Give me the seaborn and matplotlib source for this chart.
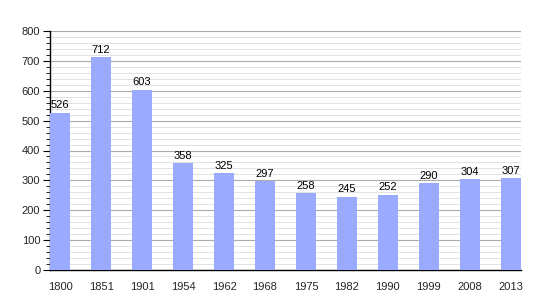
import matplotlib
matplotlib.use("Agg")
import matplotlib.pyplot as plt
import seaborn as sns
import pandas as pd
from matplotlib.ticker import MultipleLocator

years = ["1800", "1851", "1901", "1954", "1962", "1968", "1975", "1982", "1990", "1999", "2008", "2013"]
population = [526, 712, 603, 358, 325, 297, 258, 245, 252, 290, 304, 307]

df = pd.DataFrame({"year": years, "pop": population})

sns.set_theme(style="white")
plt.rcParams['font.family'] = ['Liberation Sans', 'DejaVu Sans']

fig = plt.figure(figsize=(5.5, 3), dpi=100)
ax = fig.add_axes([50/550, 30/300, 471/550, 239/300])

sns.barplot(data=df, x="year", y="pop", color="#99aaff", saturation=1, width=0.49,
            edgecolor="none", linewidth=0, ax=ax, zorder=3)

ax.set_xlim(-0.25, 11.25)
ax.set_ylim(0, 800)
ax.yaxis.set_major_locator(MultipleLocator(100))
ax.yaxis.set_minor_locator(MultipleLocator(20))
ax.grid(which="major", axis="y", color="#aaaaaa", linewidth=0.8, zorder=0)
ax.grid(which="minor", axis="y", color="#dddddd", linewidth=0.6, zorder=0)
ax.set_axisbelow(True)

for s in ["top", "right"]:
    ax.spines[s].set_visible(False)
ax.spines["left"].set_color("black")
ax.spines["bottom"].set_color("black")
ax.spines["left"].set_linewidth(1)
ax.spines["bottom"].set_linewidth(1)

ax.tick_params(axis="y", which="major", left=True, length=5, width=0.8, color="black", labelsize=8, pad=2)
ax.tick_params(axis="y", which="minor", left=True, length=3, width=0.6, color="black")
ax.tick_params(axis="x", bottom=False, labelsize=8, pad=3)
ax.set_xlabel("")
ax.set_ylabel("")

for i, v in enumerate(population):
    ax.text(i, v + 8, str(v), ha="center", va="bottom", fontsize=8, color="black")

fig.savefig("out.png", dpi=100)
